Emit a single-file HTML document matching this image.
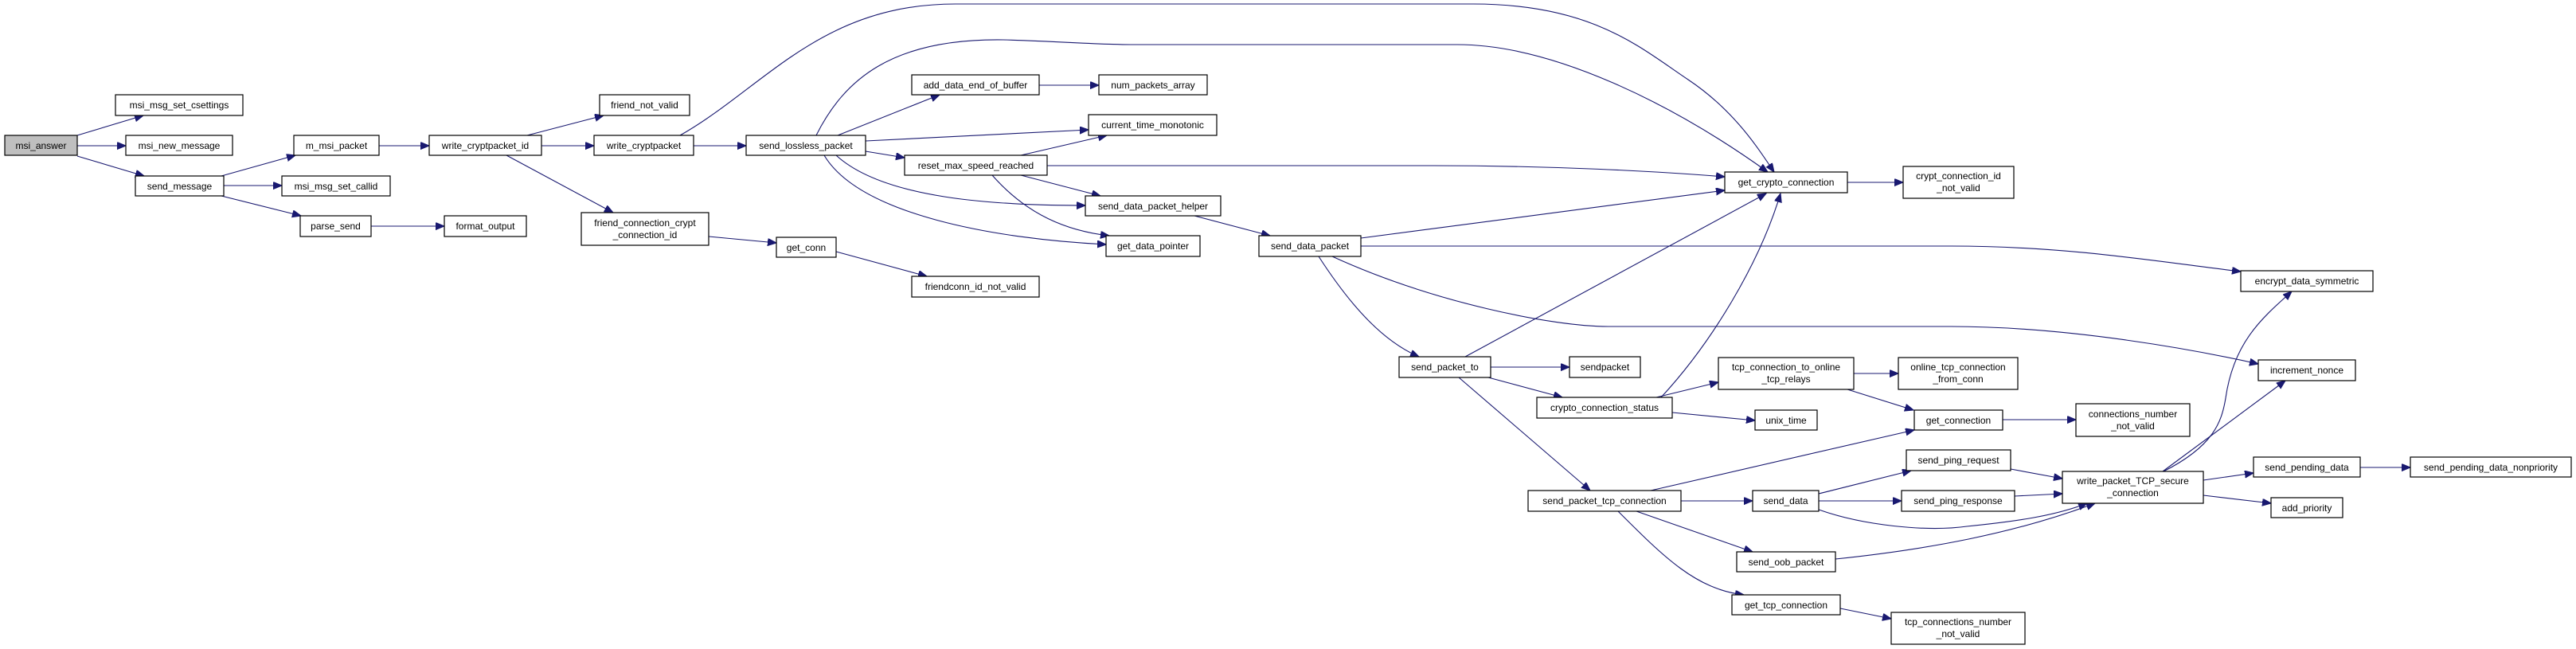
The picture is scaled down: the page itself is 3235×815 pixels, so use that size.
<!DOCTYPE html>
<html><head><meta charset="utf-8"><style>
html,body{margin:0;padding:0;background:#fff;}
svg{display:block;}
text{font-family:"Liberation Sans",Arial,sans-serif;font-size:12px;fill:#000;text-anchor:middle;}
rect{fill:#fff;stroke:#000;stroke-width:1.2;}
path{fill:none;stroke:#191970;stroke-width:1.1;marker-end:url(#a);}
</style></head><body>
<svg width="3235" height="815" viewBox="0 0 3235 815" xmlns="http://www.w3.org/2000/svg">
<defs><marker id="a" markerUnits="userSpaceOnUse" markerWidth="12" markerHeight="10" refX="11" refY="4.5" orient="auto"><path d="M0,0 L11,4.5 L0,9 Z" style="fill:#191970;stroke:#191970;marker-end:none"/></marker></defs>
<g>
<path d="M97,170 L180,145"/>
<path d="M97,183 L158,183"/>
<path d="M97,196 L181,221"/>
<path d="M278,221 L371,195"/>
<path d="M281,233 L354,233"/>
<path d="M278,246 L378,271"/>
<path d="M466,284 L558,284"/>
<path d="M476,183 L539,183"/>
<path d="M662,170 L758,145"/>
<path d="M680,183 L746,183"/>
<path d="M636,195 L770,267"/>
<path d="M871,183 L937,183"/>
<path d="M854,170 C960,110 1030,5 1200,5 L1850,5 C2000,5 2060,60 2120,100 C2180,140 2210,190 2228,216"/>
<path d="M1025,170 C1060,100 1120,48 1260,50 C1330,52 1380,56 1420,56 L1830,56 C1950,56 2100,130 2220,216"/>
<path d="M1052,170 L1180,119"/>
<path d="M1087,177 L1367,163"/>
<path d="M1087,190 L1136,198"/>
<path d="M1050,195 C1110,250 1250,258 1363,258"/>
<path d="M1035,195 C1080,270 1250,300 1389,307"/>
<path d="M1282,195 L1390,170"/>
<path d="M1315,208 L1800,208 C1950,208 2080,215 2166,222"/>
<path d="M1282,220 L1382,246"/>
<path d="M1246,220 C1290,270 1340,290 1393,296"/>
<path d="M1500,271 L1595,296"/>
<path d="M1305,107 L1380,107"/>
<path d="M1709,299 L2166,239"/>
<path d="M1709,309 L2450,309 C2600,309 2720,330 2814,341"/>
<path d="M1673,322 C1800,380 1950,410 2020,410 L2450,410 C2600,410 2760,440 2836,457"/>
<path d="M1656,322 C1700,390 1740,430 1782,448"/>
<path d="M1050,316 L1164,347"/>
<path d="M890,297 L975,305"/>
<path d="M2320,229 L2390,229"/>
<path d="M1840,448 L2218,243"/>
<path d="M1872,461 L1971,461"/>
<path d="M1869,474 L1962,499"/>
<path d="M1832,474 L1997,616"/>
<path d="M2086,499 C2150,430 2210,330 2236,243"/>
<path d="M2080,499 L2158,480"/>
<path d="M2100,518 L2204,528"/>
<path d="M2328,469 L2384,469"/>
<path d="M2320,489 L2403,515"/>
<path d="M2515,527 L2607,527"/>
<path d="M2073,616 L2404,540"/>
<path d="M2111,629 L2201,629"/>
<path d="M2055,642 L2201,693"/>
<path d="M2032,642 C2090,700 2130,740 2190,747"/>
<path d="M2311,764 L2375,777"/>
<path d="M2284,620 L2400,591"/>
<path d="M2284,629 L2388,629"/>
<path d="M2284,640 C2340,660 2420,668 2470,661 C2530,655 2580,648 2621,632"/>
<path d="M2305,702 C2420,690 2530,670 2631,632"/>
<path d="M2525,589 L2590,601"/>
<path d="M2530,623 L2590,620"/>
<path d="M2717,592 C2780,560 2790,530 2795,500 C2805,430 2840,400 2878,366"/>
<path d="M2716,592 L2870,478"/>
<path d="M2767,603 L2830,594"/>
<path d="M2767,622 L2852,632"/>
<path d="M2964,587 L3027,587"/>
</g>
<g>
<rect x="6" y="170" width="91" height="25" style="fill:#bfbfbf"/><text x="51.5" y="187">msi_answer</text>
<rect x="145" y="119" width="160" height="26"/><text x="225" y="136">msi_msg_set_csettings</text>
<rect x="158" y="170" width="134" height="25"/><text x="225" y="187">msi_new_message</text>
<rect x="170" y="221" width="111" height="25"/><text x="225.5" y="238">send_message</text>
<rect x="369" y="170" width="107" height="25"/><text x="422.5" y="187">m_msi_packet</text>
<rect x="354" y="221" width="136" height="25"/><text x="422" y="238">msi_msg_set_callid</text>
<rect x="377" y="271" width="89" height="26"/><text x="421.5" y="288">parse_send</text>
<rect x="558" y="271" width="103" height="26"/><text x="609.5" y="288">format_output</text>
<rect x="539" y="170" width="141" height="25"/><text x="609.5" y="187">write_cryptpacket_id</text>
<rect x="753" y="119" width="113" height="26"/><text x="809.5" y="136">friend_not_valid</text>
<rect x="746" y="170" width="125" height="25"/><text x="808.5" y="187">write_cryptpacket</text>
<rect x="937" y="170" width="150" height="25"/><text x="1012" y="187">send_lossless_packet</text>
<rect x="730" y="267" width="160" height="41"/><text x="810" y="284">friend_connection_crypt</text><text x="810" y="299">_connection_id</text>
<rect x="975" y="298" width="75" height="25"/><text x="1012.5" y="315">get_conn</text>
<rect x="1145" y="94" width="160" height="25"/><text x="1225" y="111">add_data_end_of_buffer</text>
<rect x="1380" y="94" width="136" height="25"/><text x="1448" y="111">num_packets_array</text>
<rect x="1367" y="144" width="161" height="26"/><text x="1447.5" y="161">current_time_monotonic</text>
<rect x="1136" y="195" width="179" height="25"/><text x="1225.5" y="212">reset_max_speed_reached</text>
<rect x="1363" y="246" width="170" height="25"/><text x="1448" y="263">send_data_packet_helper</text>
<rect x="1389" y="296" width="118" height="26"/><text x="1448" y="313">get_data_pointer</text>
<rect x="1581" y="296" width="128" height="26"/><text x="1645" y="313">send_data_packet</text>
<rect x="1145" y="347" width="160" height="26"/><text x="1225" y="364">friendconn_id_not_valid</text>
<rect x="2166" y="216" width="154" height="26"/><text x="2243" y="233">get_crypto_connection</text>
<rect x="2390" y="209" width="139" height="40"/><text x="2459.5" y="225">crypt_connection_id</text><text x="2459.5" y="240">_not_valid</text>
<rect x="2814" y="340" width="166" height="26"/><text x="2897" y="357">encrypt_data_symmetric</text>
<rect x="2836" y="452" width="122" height="26"/><text x="2897" y="469">increment_nonce</text>
<rect x="1757" y="448" width="115" height="26"/><text x="1814.5" y="465">send_packet_to</text>
<rect x="1971" y="448" width="89" height="26"/><text x="2015.5" y="465">sendpacket</text>
<rect x="1930" y="499" width="170" height="26"/><text x="2015" y="516">crypto_connection_status</text>
<rect x="2158" y="449" width="170" height="40"/><text x="2243" y="465">tcp_connection_to_online</text><text x="2243" y="480">_tcp_relays</text>
<rect x="2384" y="449" width="150" height="40"/><text x="2459" y="465">online_tcp_connection</text><text x="2459" y="480">_from_conn</text>
<rect x="2204" y="515" width="78" height="25"/><text x="2243" y="532">unix_time</text>
<rect x="2404" y="515" width="111" height="25"/><text x="2459.5" y="532">get_connection</text>
<rect x="2607" y="507" width="143" height="41"/><text x="2678.5" y="524">connections_number</text><text x="2678.5" y="539">_not_valid</text>
<rect x="1919" y="616" width="192" height="26"/><text x="2015" y="633">send_packet_tcp_connection</text>
<rect x="2201" y="616" width="83" height="26"/><text x="2242.5" y="633">send_data</text>
<rect x="2394" y="565" width="131" height="26"/><text x="2459.5" y="582">send_ping_request</text>
<rect x="2388" y="616" width="142" height="26"/><text x="2459" y="633">send_ping_response</text>
<rect x="2590" y="592" width="177" height="40"/><text x="2678.5" y="608">write_packet_TCP_secure</text><text x="2678.5" y="623">_connection</text>
<rect x="2181" y="693" width="124" height="25"/><text x="2243" y="710">send_oob_packet</text>
<rect x="2175" y="747" width="136" height="25"/><text x="2243" y="764">get_tcp_connection</text>
<rect x="2375" y="769" width="168" height="40"/><text x="2459" y="785">tcp_connections_number</text><text x="2459" y="800">_not_valid</text>
<rect x="2830" y="574" width="134" height="25"/><text x="2897" y="591">send_pending_data</text>
<rect x="3027" y="574" width="202" height="25"/><text x="3128" y="591">send_pending_data_nonpriority</text>
<rect x="2852" y="625" width="90" height="25"/><text x="2897" y="642">add_priority</text>
</g>
</svg>
</body></html>
